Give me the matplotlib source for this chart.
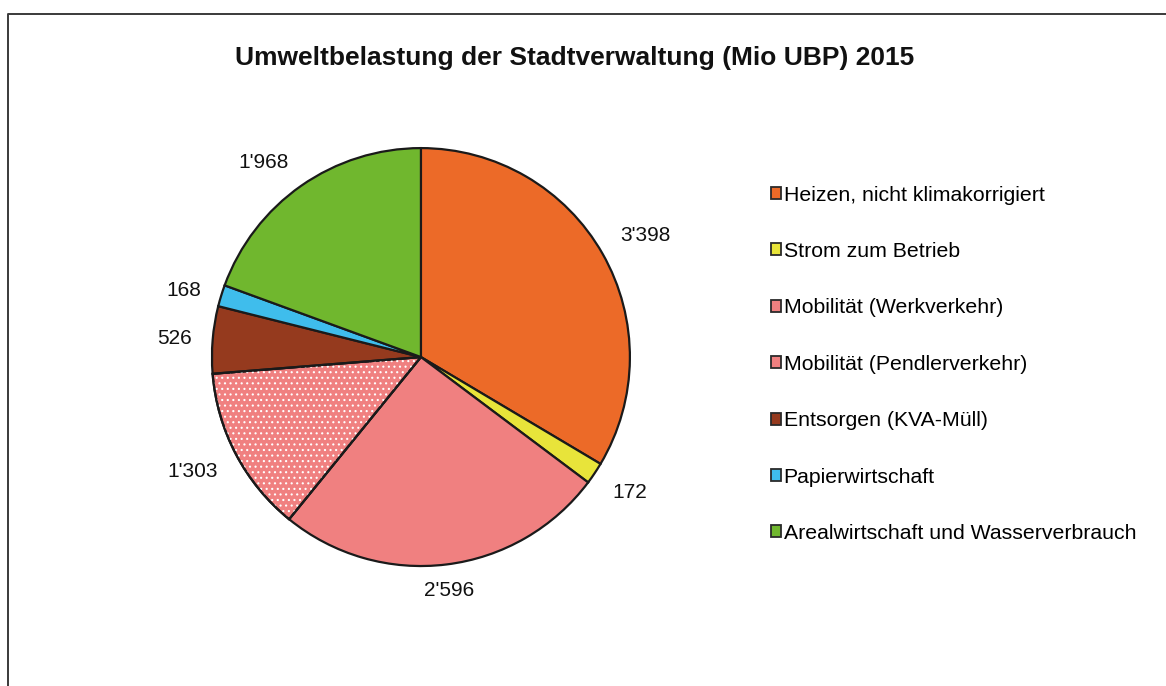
import numpy as np
import matplotlib
matplotlib.use("Agg")
import matplotlib.pyplot as plt
from matplotlib.lines import Line2D
from matplotlib.patches import Wedge

plt.rcParams['font.family'] = ['Liberation Sans', 'DejaVu Sans']
plt.rcParams['hatch.linewidth'] = 0.8

# data
categories = ["Heizen, nicht klimakorrigiert", "Strom zum Betrieb",
              "Mobilität (Werkverkehr)", "Mobilität (Pendlerverkehr)",
              "Entsorgen (KVA-Müll)", "Papierwirtschaft",
              "Arealwirtschaft und Wasserverbrauch"]
values = [3398, 172, 2596, 1303, 526, 168, 1968]
colors = ["#EC6A28", "#E8E43A", "#F08080", "#F08080",
          "#953A1E", "#3FBDEC", "#70B72E"]
hatched = [False, False, False, True, False, False, False]

fig = plt.figure(figsize=(11.66, 6.86), dpi=100)
ax = fig.add_axes([0.128, 0.0835, 0.466, 0.792])

wedges, _ = ax.pie(values, colors=colors, startangle=90, counterclock=False,
                   radius=1.0,
                   wedgeprops=dict(edgecolor="#1a1a1a", linewidth=1.6))

# dotted pattern on the commuter slice
for w, h in zip(wedges, hatched):
    if h:
        ov = Wedge(w.center, w.r, w.theta1, w.theta2, facecolor="none",
                   edgecolor="white", linewidth=0, hatch="...",
                   zorder=w.get_zorder() + 0.1)
        ax.add_patch(ov)
        edge = Wedge(w.center, w.r, w.theta1, w.theta2, facecolor="none",
                     edgecolor="#1a1a1a", linewidth=1.6,
                     zorder=w.get_zorder() + 0.2)
        ax.add_patch(edge)

# value labels outside the slices
for w, v in zip(wedges, values):
    ang = np.deg2rad((w.theta1 + w.theta2) / 2)
    c, s = np.cos(ang), np.sin(ang)
    x, y = 1.1 * c, 1.08 * s
    ha = "left" if c > 0.3 else ("right" if c < -0.3 else "center")
    va = "bottom" if s > 0.4 else ("top" if s < -0.4 else "center")
    ax.text(x, y, f"{v:,}".replace(",", "'"), ha=ha, va=va, fontsize=15,
            color="#111111")

ax.set_xlim(-1.3, 1.3)
ax.set_ylim(-1.3, 1.3)
ax.set_aspect("equal")
ax.axis("off")

handles = [plt.Rectangle((0, 0), 1, 1, facecolor=c, edgecolor="#2a2a2a",
                         linewidth=1.3) for c in colors]
fig.legend(handles, categories, loc="upper left",
           bbox_to_anchor=(762 / 1166, 1 - 177 / 686), frameon=False,
           fontsize=15.3, handlelength=0.5, handleheight=0.5,
           handletextpad=0.12, labelspacing=1.76, borderaxespad=0)

fig.text(575 / 1166, 1 - 58 / 686,
         "Umweltbelastung der Stadtverwaltung (Mio UBP) 2015",
         ha="center", va="center", fontsize=19, fontweight="bold",
         color="#111111")

# chart area border (continues beyond the crop on right and bottom)
x0, y0 = 8 / 1166, 1 - 14 / 686
fig.add_artist(Line2D([x0, x0, 1.0], [0.0, y0, y0], transform=fig.transFigure,
                      color="#3a3a3a", linewidth=1.4))

fig.savefig("out.png", dpi=100)
